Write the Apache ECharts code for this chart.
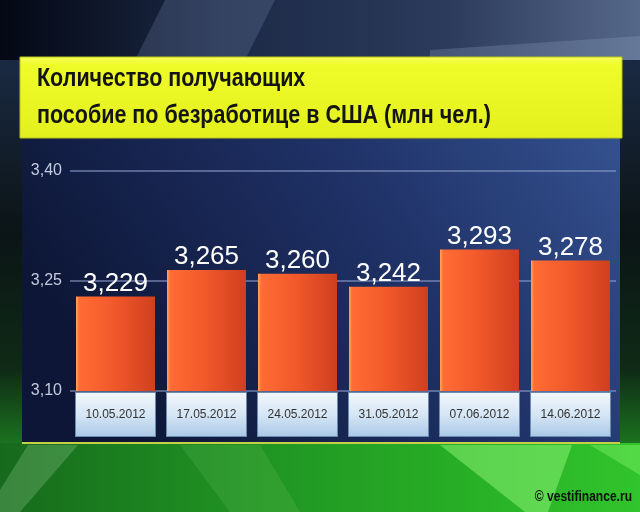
<!DOCTYPE html>
<html><head><meta charset="utf-8">
<script src="https://cdn.jsdelivr.net/npm/echarts@6/dist/echarts.min.js"></script>
<style>html,body{margin:0;padding:0;background:#000}#c{width:640px;height:512px}</style>
</head><body><div id="c"></div>
<script>
const categories = ['10.05.2012','17.05.2012','24.05.2012','31.05.2012','07.06.2012','14.06.2012'];
const values = [3.229, 3.265, 3.260, 3.242, 3.293, 3.278];
const yTickValues = [3.10, 3.25, 3.40];
const yTickLabels = ['3,10', '3,25', '3,40'];
const titleLines = ['Количество получающих', 'пособие по безработице в США (млн чел.)'];
const sourceText = '© vestifinance.ru';

const lg = (x, y, x2, y2, stops) => ({type: 'linear', x, y, x2, y2,
  colorStops: stops.map(s => ({offset: s[0], color: s[1]}))});

const chart = echarts.init(document.getElementById('c'), null, {renderer: 'canvas'});
const SANS = "'Liberation Sans', Arial, Helvetica, sans-serif";

chart.setOption({
  animation: false,
  graphic: [
    {type: 'rect', z: -100, shape: {x: 0, y: 0, width: 640, height: 512},
     style: {fill: lg(0, 0, 0, 1, [[0, '#0b1326'], [0.11, '#1b2a44'], [0.45, '#0b1416'], [0.72, '#0f2a16'], [0.87, '#1c7420'], [1, '#2aa826']])}},
    {type: 'rect', z: -99, shape: {x: 0, y: 0, width: 640, height: 60},
     style: {fill: lg(0, 0, 1, 0, [[0, '#040814'], [0.35, '#1c2946'], [0.7, '#2c3b5c'], [1, '#56688a']])}},
    {type: 'polygon', z: -98, shape: {points: [[135, 60], [165, 0], [275, 0], [245, 60]]},
     style: {fill: 'rgba(140,160,200,0.22)'}},
    {type: 'polygon', z: -98, shape: {points: [[430, 50], [640, 36], [640, 60], [430, 60]]},
     style: {fill: 'rgba(150,170,200,0.25)'}},
    {type: 'rect', z: -99, shape: {x: 0, y: 443, width: 640, height: 69},
     style: {fill: lg(0, 0, 1, 0, [[0, '#176a1c'], [0.35, '#1f8f22'], [0.7, '#27ad26'], [1, '#31c42c']])}},
    {type: 'polygon', z: -98, shape: {points: [[440, 445], [572, 445], [548, 512], [525, 512]]},
     style: {fill: 'rgba(160,255,130,0.45)'}},
    {type: 'polygon', z: -98, shape: {points: [[590, 445], [640, 445], [640, 475]]},
     style: {fill: 'rgba(150,255,120,0.35)'}},
    {type: 'polygon', z: -98, shape: {points: [[28, 445], [78, 445], [20, 512], [0, 512], [0, 490]]},
     style: {fill: 'rgba(190,230,190,0.22)'}},
    {type: 'polygon', z: -98, shape: {points: [[180, 445], [260, 445], [300, 512], [230, 512]]},
     style: {fill: 'rgba(120,200,110,0.18)'}},
    // panel
    {type: 'rect', z: -90, shape: {x: 22, y: 137, width: 598, height: 306},
     style: {fill: lg(1, 0, 0.2, 1, [[0, '#34518f'], [0.45, '#1f3166'], [1, '#0d1636']])}},
    {type: 'rect', z: -89, shape: {x: 22, y: 442, width: 598, height: 2},
     style: {fill: '#c6d046'}},
    // banner
    {type: 'rect', z: -80, shape: {x: 20, y: 57, width: 602, height: 81},
     style: {fill: lg(0, 0, 0, 1, [[0, '#f8ff5c'], [0.1, '#eefc2a'], [1, '#e4f01e']]), stroke: '#b8c418', lineWidth: 1}},
    {type: 'text', z: 10, x: 37, y: 79, scaleX: 0.86,
     style: {text: titleLines[0], x: 0, y: 0, verticalAlign: 'middle', font: "bold 25px " + SANS, fill: '#141414'}},
    {type: 'text', z: 10, x: 37, y: 116, scaleX: 0.86,
     style: {text: titleLines[1], x: 0, y: 0, verticalAlign: 'middle', font: "bold 25px " + SANS, fill: '#141414'}},
    {type: 'text', z: 10, x: 632, y: 497, scaleX: 0.86,
     style: {text: sourceText, x: 0, y: 0, align: 'right', verticalAlign: 'middle',
     font: "bold 14px " + SANS, fill: '#0a140a'}}
  ],
  grid: {left: 70, right: 24, top: 171, bottom: 121, containLabel: false},
  xAxis: {
    type: 'category', data: categories,
    axisLine: {show: false}, axisTick: {show: false},
    axisLabel: {
      interval: 0, margin: 2, width: 79, height: 43, lineHeight: 43, align: 'center',
      verticalAlign: 'top',
      fontFamily: SANS, fontSize: 12, color: '#333333',
      backgroundColor: lg(0, 0, 0, 1, [[0, '#f2f7fc'], [0.5, '#d6e6f5'], [1, '#a9c8e6']]),
      borderColor: '#6b8bb0', borderWidth: 1
    }
  },
  yAxis: {
    type: 'value', min: 3.10, max: 3.40, interval: 0.05,
    axisLine: {show: false}, axisTick: {show: false},
    axisLabel: {
      margin: 8, fontFamily: SANS, fontSize: 16, color: '#c4cbdd',
      formatter: v => {
        const i = yTickValues.findIndex(t => Math.abs(t - v) < 1e-6);
        return i >= 0 ? yTickLabels[i] : '';
      }
    },
    splitLine: {show: true, lineStyle: {color: ['rgba(140,155,200,0.75)', 'rgba(0,0,0,0)', 'rgba(0,0,0,0)'], width: 1.5}}
  },
  series: [{
    type: 'bar', data: values, barWidth: 79,
    itemStyle: {color: lg(0, 0, 1, 0, [[0, '#ffa85a'], [0.04, '#ff6c34'], [0.5, '#f0582a'], [1, '#cf3f1f']])},
    label: {show: true, position: 'top', distance: 0, fontFamily: SANS, fontSize: 26, color: '#ffffff',
            formatter: p => p.value.toFixed(3).replace('.', ',')}
  }]
});
</script></body></html>
